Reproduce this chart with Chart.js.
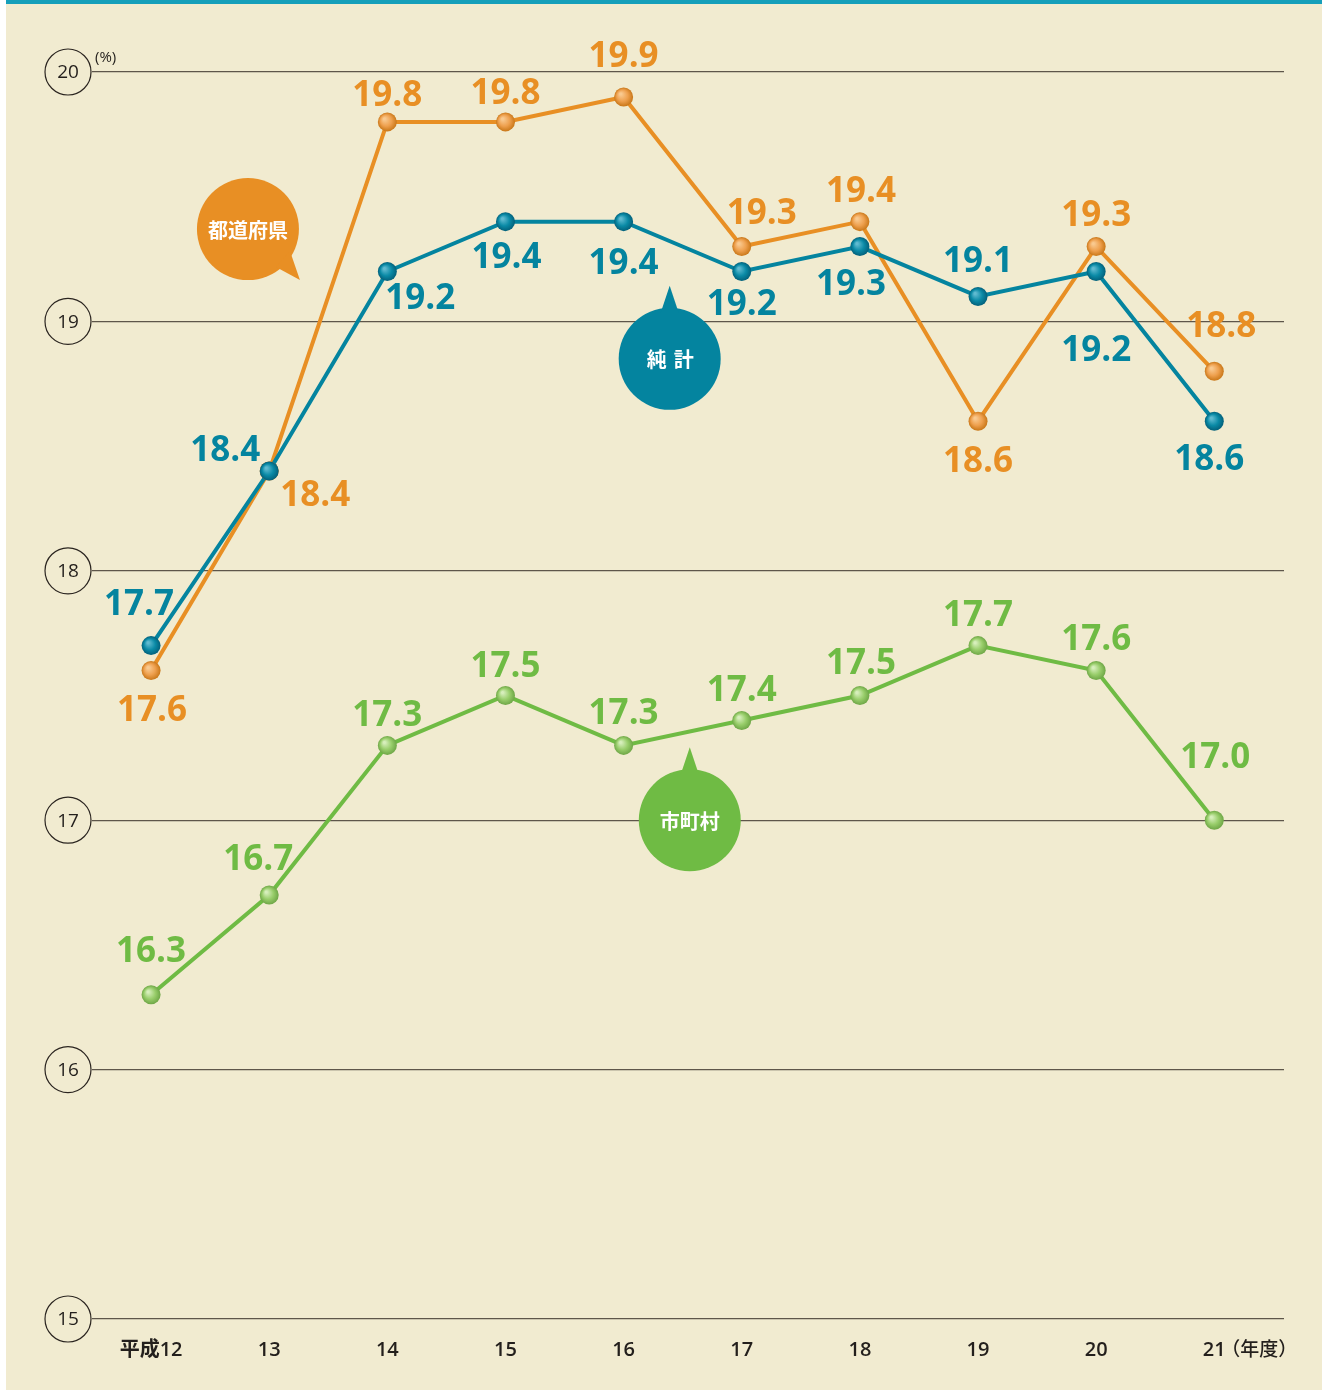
<!DOCTYPE html>
<html>
<head>
<meta charset="utf-8">
<script src="https://cdn.jsdelivr.net/npm/chart.js@4/dist/chart.umd.min.js"></script>
<style>
  html, body { margin: 0; padding: 0; background: #fff; }
  canvas { display: block; }
</style>
</head>
<body>
<canvas id="chart" width="1322" height="1391" style="width:1322px;height:1391px"></canvas>
<script>
// 年度 (平成)
const years = ["平成12", "13", "14", "15", "16", "17", "18", "19", "20", "21"];
const yTicks = [15, 16, 17, 18, 19, 20];

const prefValues = [17.6, 18.4, 19.8, 19.8, 19.9, 19.3, 19.4, 18.6, 19.3, 18.8]; // 都道府県
const totalValues = [17.7, 18.4, 19.2, 19.4, 19.4, 19.2, 19.3, 19.1, 19.2, 18.6]; // 純計
const muniValues = [16.3, 16.7, 17.3, 17.5, 17.3, 17.4, 17.5, 17.7, 17.6, 17.0]; // 市町村

// label offsets (px) from each point, per series
const prefLabelPos = [[1, 38], [46, 23], [0, -28], [0, -30], [0, -42], [20, -35], [1, -32], [0, 39], [0, -33], [7, -46]];
const totalLabelPos = [[-12, -43], [-44, -22], [33, 26], [1, 34], [0, 40], [0, 32], [-9, 36], [0, -36], [0, 78], [-5, 37]];
const muniLabelPos = [[0, -45], [-11, -37], [0, -31], [0, -30], [0, -33], [0, -31], [1, -33], [0, -32], [0, -33], [1, -64]];

const ORANGE = "#e88f24";
const TEAL = "#04849f";
const GREEN = "#6fbb44";

const series = [
    { label: "都道府県", values: prefValues, color: ORANGE, pos: prefLabelPos,
      ball: ["#f9c98f", "#eea04e", "#c97718"] },
    { label: "純計", values: totalValues, color: TEAL, pos: totalLabelPos,
      ball: ["#5fbad0", "#0a8aa6", "#03607a"] },
    { label: "市町村", values: muniValues, color: GREEN, pos: muniLabelPos,
      ball: ["#d6eebb", "#98cd6a", "#6ea646"] },
];

const chartFont = "'Open Sans', 'Noto Sans CJK JP', sans-serif";

const decorPlugin = {
    id: "decor",
    beforeDraw(chart) {
        const c = chart.ctx;
        c.save();
        c.fillStyle = "#ffffff";
        c.fillRect(0, 0, chart.width, chart.height);
        c.fillStyle = "#f1ebd0";
        c.fillRect(6, 0, chart.width - 6, 1390);
        c.fillStyle = "#169fba";
        c.fillRect(6, 0, chart.width - 6, 4);
        c.restore();
    },
    afterDraw(chart) {
        const c = chart.ctx;
        const xs = chart.scales.x;
        const ys = chart.scales.y;

        // y tick circles
        c.save();
        yTicks.forEach(t => {
            const py = ys.getPixelForValue(t);
            c.beginPath();
            c.arc(68, py, 23, 0, Math.PI * 2);
            c.fillStyle = "#f1ebd0";
            c.fill();
            c.lineWidth = 1.2;
            c.strokeStyle = "#2b2520";
            c.stroke();
            c.fillStyle = "#231f1c";
            c.font = "500 19px " + chartFont;
            c.textAlign = "center";
            c.textBaseline = "middle";
            c.fillText(String(t), 68, py + 1);
        });
        c.font = "15px " + chartFont;
        c.textAlign = "left";
        c.fillText("(%)", 95, 58);

        // unit on x axis
        c.font = "500 19px 'Noto Sans CJK JP', sans-serif";
        c.textAlign = "left";
        c.fillText("（年度）", xs.getPixelForValue(9) + 7, 1349);

        // bubbles
        const bubble = (cx, cy, r, tail, color, text, spacing) => {
            c.beginPath();
            c.arc(cx, cy, r, 0, Math.PI * 2);
            c.fillStyle = color;
            c.fill();
            c.beginPath();
            c.moveTo(tail[0][0], tail[0][1]);
            c.lineTo(tail[1][0], tail[1][1]);
            c.lineTo(tail[2][0], tail[2][1]);
            c.closePath();
            c.fill();
            c.fillStyle = "#ffffff";
            c.font = "bold 20px 'Noto Sans CJK JP', sans-serif";
            c.textAlign = "center";
            c.textBaseline = "middle";
            if (spacing) {
                c.fillText(text[0], cx - 13, cy + 1);
                c.fillText(text[1], cx + 14, cy + 1);
            } else {
                c.fillText(text, cx, cy + 1);
            }
        };
        let bx = xs.getPixelForValue(0.82), by = ys.getPixelForValue(19.37);
        bubble(bx, by, 51, [[bx + 28, by + 38], [bx + 52, by + 51], [bx + 42, by + 22]], ORANGE, "都道府県");
        bx = xs.getPixelForValue(4.39); by = ys.getPixelForValue(18.85);
        bubble(bx, by, 51, [[bx - 9, by - 46], [bx, by - 73], [bx + 9, by - 46]], TEAL, "純計", true);
        bx = xs.getPixelForValue(4.56); by = ys.getPixelForValue(17.0);
        bubble(bx, by, 51, [[bx - 9, by - 46], [bx, by - 73], [bx + 9, by - 46]], GREEN, "市町村");

        // balls
        chart.data.datasets.forEach((ds, di) => {
            const meta = chart.getDatasetMeta(di);
            const s = series[di];
            meta.data.forEach(pt => {
                const r = 9.5;
                const g = c.createRadialGradient(pt.x - 3, pt.y - 3, 1, pt.x, pt.y, r);
                g.addColorStop(0, s.ball[0]);
                g.addColorStop(0.55, s.ball[1]);
                g.addColorStop(1, s.ball[2]);
                c.beginPath();
                c.arc(pt.x, pt.y, r, 0, Math.PI * 2);
                c.fillStyle = g;
                c.fill();
            });
        });

        // value labels
        c.font = "bold 35px " + chartFont;
        c.textAlign = "center";
        c.textBaseline = "middle";
        chart.data.datasets.forEach((ds, di) => {
            const meta = chart.getDatasetMeta(di);
            const s = series[di];
            c.fillStyle = s.color;
            meta.data.forEach((pt, i) => {
                c.fillText(s.values[i].toFixed(1), pt.x + s.pos[i][0], pt.y + s.pos[i][1] + 2);
            });
        });
        c.restore();
    }
};

new Chart(document.getElementById("chart"), {
    type: "line",
    data: {
        datasets: series.map((s, i) => ({
            label: s.label,
            data: s.values.map((v, k) => ({ x: k, y: v })),
            borderColor: s.color,
            borderWidth: 4,
            pointRadius: 0,
            tension: 0,
            order: i === 1 ? 0 : (i === 0 ? 1 : 2),
        })),
    },
    options: {
        responsive: false,
        animation: false,
        devicePixelRatio: 1,
        layout: { padding: { top: 72, right: 38, left: 0, bottom: 0 } },
        plugins: { legend: { display: false }, tooltip: { enabled: false } },
        scales: {
            x: {
                type: "linear",
                min: -0.5,
                max: 9.59,
                afterFit: s => { s.height = 72; },
                grid: { display: false },
                border: { display: false },
                ticks: {
                    stepSize: 1,
                    includeBounds: false,
                    autoSkip: false,
                    maxRotation: 0,
                    padding: 11,
                    color: "#231f1c",
                    font: { family: chartFont, size: 20, weight: "600" },
                    callback: v => (Number.isInteger(v) ? years[v] : ""),
                },
            },
            y: {
                min: 15,
                max: 20,
                afterFit: s => { s.width = 92; },
                border: { display: false },
                grid: { color: "#5e564a", lineWidth: 1.3, drawTicks: false },
                ticks: { stepSize: 1, display: false },
            },
        },
    },
    plugins: [decorPlugin],
});
</script>
</body>
</html>
